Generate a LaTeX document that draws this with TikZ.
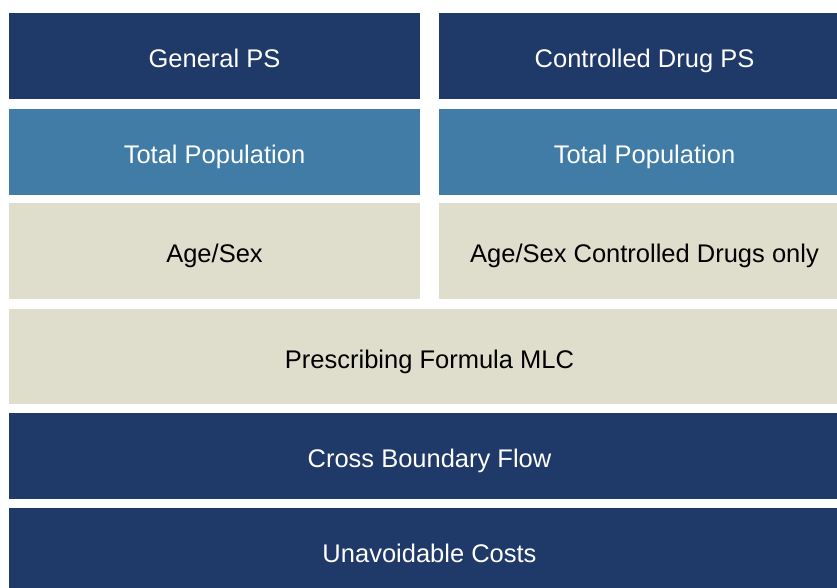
\documentclass[tikz,border=0pt]{standalone}
\usepackage{fontspec}
\setmainfont{Liberation Sans}
\definecolor{navy}{RGB}{31,57,104}
\definecolor{steel}{RGB}{64,124,166}
\definecolor{sand}{RGB}{223,221,203}
\begin{document}
\begin{tikzpicture}[x=1pt,y=-1pt,
  band/.style={rectangle,inner sep=0pt,outer sep=0pt,anchor=north west,
    text height=23.4pt,text depth=0pt,
    font=\fontsize{25.5}{30}\selectfont},
  darkband/.style={band,fill=navy,text=white},
  midband/.style={band,fill=steel,text=white},
  lightband/.style={band,fill=sand,text=black}]
\useasboundingbox (0,0) rectangle (837,587);
\begin{scope}
\clip (0,0) rectangle (837,587);
% two columns on top
\node[darkband,minimum width=411pt,minimum height=86pt] (gps) at (9,13) {General PS};
\node[darkband,minimum width=411pt,minimum height=86pt] (cps) at (439,13) {Controlled Drug PS};
\node[midband,minimum width=411pt,minimum height=86pt] (tp1) at (9,109) {Total Population};
\node[midband,minimum width=411pt,minimum height=86pt] (tp2) at (439,109) {Total Population};
\node[lightband,minimum width=411pt,minimum height=96pt] (as1) at (9,203) {Age/Sex};
\node[lightband,minimum width=411pt,minimum height=96pt] (as2) at (439,203) {Age/Sex Controlled Drugs only};
% full-width bands
\node[lightband,minimum width=841pt,minimum height=95pt] (mlc) at (9,309) {Prescribing Formula MLC};
\node[darkband,minimum width=841pt,minimum height=86pt] (cbf) at (9,413) {Cross Boundary Flow};
\node[darkband,minimum width=841pt,minimum height=86pt] (uc) at (9,508) {Unavoidable Costs};
\end{scope}
\end{tikzpicture}
\end{document}
